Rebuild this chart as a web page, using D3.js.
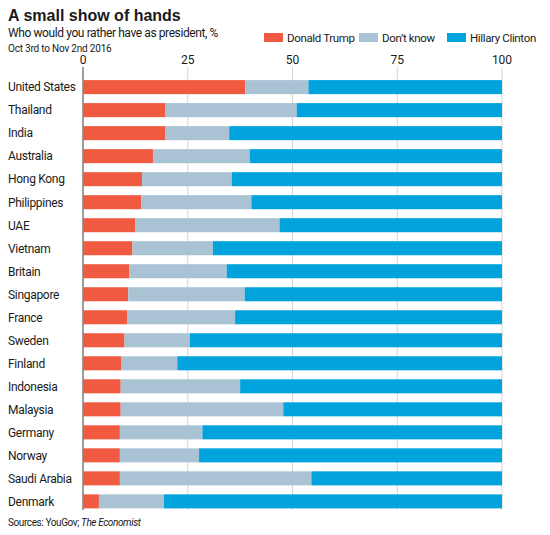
<!DOCTYPE html>
<html><head><meta charset="utf-8">
<script src="https://cdn.jsdelivr.net/npm/d3@7"></script>
<style>
body{margin:0;background:#fff;}
svg text{font-family:"Roboto",sans-serif;fill:#1a1a1a;}
</style></head><body>
<svg id="chart" width="550" height="535"></svg>
<script>
const countries = ["United States","Thailand","India","Australia","Hong Kong","Philippines","UAE","Vietnam","Britain","Singapore","France","Sweden","Finland","Indonesia","Malaysia","Germany","Norway","Saudi Arabia","Denmark"];
const trump   = [38.7,19.7,19.7,16.7,14.1,13.9,12.5,11.8,11.1,10.8,10.5,9.9,9.2,9.0,9.0,8.8,8.8,8.8,3.8];
const dontKnow= [15.1,31.3,15.2,23.1,21.4,26.3,34.4,19.2,23.2,27.8,25.8,15.6,13.3,28.5,38.8,19.7,18.9,45.7,15.5];
const clinton = [46.2,49.0,65.1,60.2,64.5,59.8,53.1,69.0,65.7,61.4,63.7,74.5,77.5,62.5,52.2,71.5,72.3,45.5,80.7];
const seriesNames = ["Donald Trump","Don\u2019t know","Hillary Clinton"];
const seriesColors = ["#ef5a41","#a9c3d4","#00a3dc"];
const tickValues = [0,25,50,75,100];

const svg = d3.select("#chart");
const x = d3.scaleLinear().domain([0,100]).range([83,502]);
const y = d3.scaleBand().domain(countries).range([75.5,513]).paddingInner(0.39).paddingOuter(0.2);

// titles
svg.append("text").attr("x",8).attr("y",21).attr("font-size",16).attr("font-weight","bold")
  .style("font-family","'Liberation Sans',Arial,sans-serif").text("A small show of hands");
svg.append("text").attr("x",8).attr("y",37).attr("font-size",12).attr("letter-spacing",-0.4).text("Who would you rather have as president, %");
svg.append("text").attr("x",8).attr("y",52).attr("font-size",10).attr("letter-spacing",-0.2).text("Oct 3rd to Nov 2nd 2016");

// gridlines
const gTop = 67, gBot = 510;
svg.append("g").selectAll("line").data(tickValues).join("line")
  .attr("x1",d=>x(d)).attr("x2",d=>x(d)).attr("y1",gTop).attr("y2",gBot)
  .attr("stroke",d=>d===0?"#8a8a8a":"#d4d4d4").attr("stroke-width",d=>d===0?1.2:1);
svg.append("g").selectAll("text").data(tickValues).join("text")
  .attr("x",d=>x(d)).attr("y",64).attr("text-anchor","middle").attr("font-size",12).text(d=>d);

// stacked bars
const stackData = countries.map((c,i)=>({country:c, s0:trump[i], s1:dontKnow[i], s2:clinton[i]}));
const stack = d3.stack().keys(["s0","s1","s2"])(stackData);
svg.append("g").selectAll("g").data(stack).join("g").attr("fill",(d,i)=>seriesColors[i])
  .selectAll("rect").data(d=>d).join("rect")
  .attr("x",d=>x(d[0])).attr("width",d=>Math.min(x(d[1]),x(100))-x(d[0]))
  .attr("y",d=>y(d.data.country)).attr("height",y.bandwidth());

// axis zero line over bars
svg.append("line").attr("x1",x(0)).attr("x2",x(0)).attr("y1",gTop).attr("y2",gBot).attr("stroke","#8a8a8a").attr("stroke-width",1.2);

// country labels
svg.append("g").selectAll("text").data(countries).join("text")
  .attr("x",8).attr("y",d=>y(d)+y.bandwidth()/2).attr("dy","0.36em").attr("font-size",12)
  .attr("letter-spacing",-0.3).text(d=>d);

// legend
const legX = [264,359,447];
const lg = svg.append("g").selectAll("g").data(seriesNames).join("g")
  .attr("transform",(d,i)=>`translate(${legX[i]},33)`);
lg.append("rect").attr("width",19).attr("height",9).attr("fill",(d,i)=>seriesColors[i]);
lg.append("text").attr("x",23).attr("y",9).attr("font-size",11.5).attr("letter-spacing",-0.35).text(d=>d);

// source
const src = svg.append("text").attr("x",8).attr("y",526).attr("font-size",10).attr("letter-spacing",-0.4);
src.append("tspan").text("Sources: YouGov; ");
src.append("tspan").attr("font-style","italic").text("The Economist");
</script>
</body></html>
